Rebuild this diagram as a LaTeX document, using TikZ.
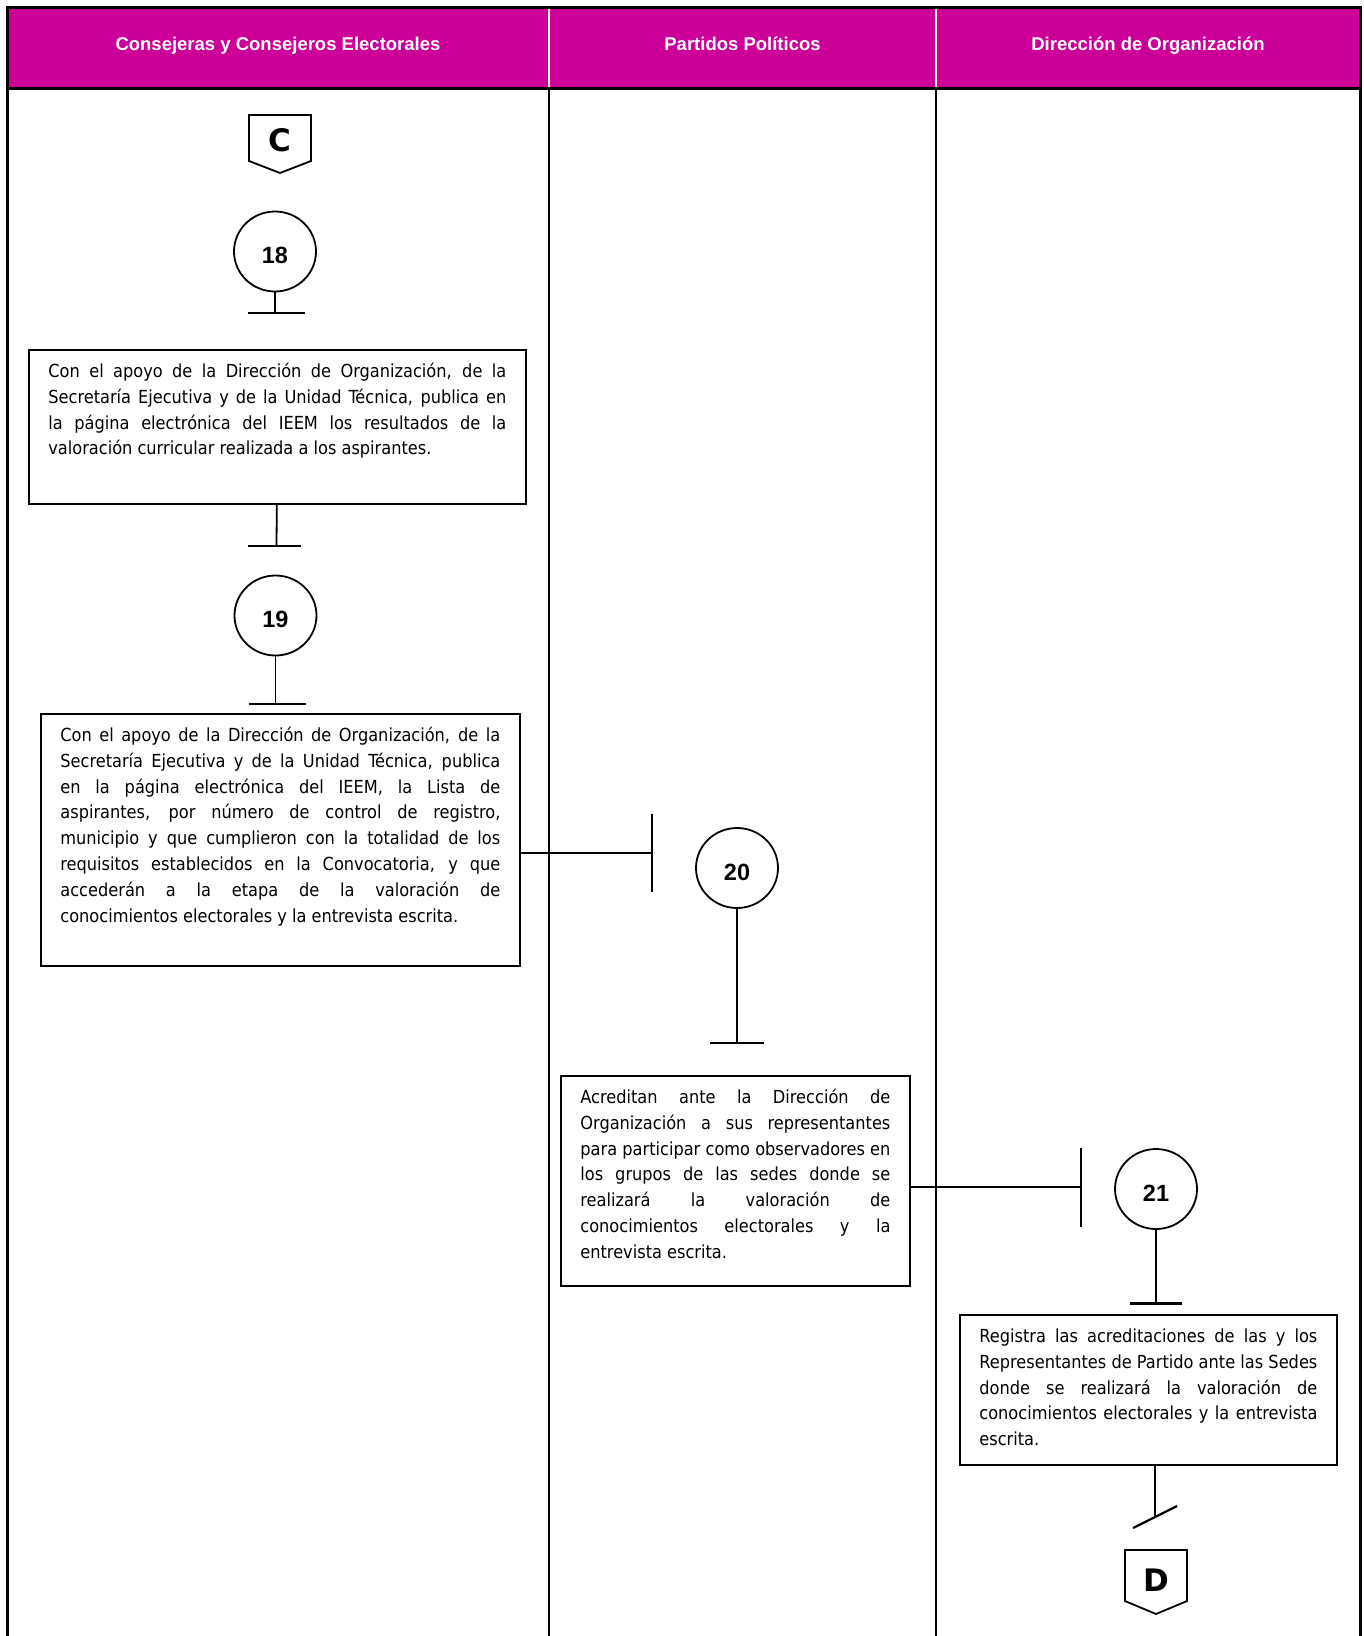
\documentclass[tikz,border=0pt]{standalone}
\usepackage{fontspec}
\setmainfont{DejaVu Sans Condensed}
\newfontfamily\headfont{Liberation Sans}
\newfontfamily\markfont{DejaVu Sans}
\usepackage{tikz}
\usetikzlibrary{shapes.geometric}
\definecolor{ieem}{RGB}{204,0,153}
\newcommand{\acttext}[3]{\parbox[t][#1pt][t]{#2pt}{\strut #3}}

\begin{document}
\begin{tikzpicture}[x=1pt,y=-1pt]

\tikzset{lane/.style = {line width=2pt}}
\tikzset{laneframe/.style = {line width=3pt}}
\tikzset{head/.style = {anchor=base, text=white, font=\headfont\bfseries\fontsize{18.5}{22}\selectfont}}
\tikzset{act/.style = {draw, line width=1.8pt, anchor=north west, inner xsep=19.5pt, inner ysep=9.5pt, font=\fontsize{18}{25.8}\selectfont}}
\tikzset{actnum/.style = {shape=ellipse, draw, line width=1.8pt, minimum width=82pt, minimum height=80pt, inner sep=0pt, text height=24pt, text depth=0pt, font=\headfont\bfseries\fontsize{23.5}{28}\selectfont}}
\tikzset{pageletter/.style = {inner sep=0pt, font=\markfont\bfseries\fontsize{31}{36}\selectfont}}
\tikzset{flow/.style = {line width=1.8pt}}
\tikzset{endbar/.style = {line width=2.2pt}}

\useasboundingbox (0,0) rectangle (1364,1636);

% lanes
\fill[ieem] (7,7) rectangle (1360,88);
\draw[white, line width=1.5pt] (549,7) -- (549,88) (936,7) -- (936,88);
\draw[lane] (549,88) -- (549,1636) (936,88) -- (936,1636);
\draw[laneframe] (7,1636) -- (7,7) -- (1360,7) -- (1360,1636);
\draw[laneframe] (7,88) -- (1360,88);
\node[head] (h1) at (278,50.5) {Consejeras y Consejeros Electorales};
\node[head] (h2) at (742.5,50.5) {Partidos Políticos};
\node[head] (h3) at (1148,50.5) {Dirección de Organización};

% connectors
\node[pageletter] (C) at (280,140) {C};
\draw[flow] (C.center) ++(-31,-25) -- ++(62,0) -- ++(0,46) -- ++(-31,12) -- ++(-31,-12) -- cycle;
\node[pageletter] (D) at (1156,1580) {D};
\draw[flow] (D.center) ++(-31,-30) -- ++(62,0) -- ++(0,51) -- ++(-31,13) -- ++(-31,-13) -- cycle;

% vertices
\node[actnum] (s18) at (275,251.5) {18};
\node[actnum] (s19) at (275.5,615.5) {19};
\node[actnum] (s20) at (737,868) {20};
\node[actnum] (s21) at (1156,1189) {21};

\node[act] (a18) at (28,349) {\acttext{135}{458}{Con el apoyo de la Dirección de Organización, de la\linebreak
Secretaría Ejecutiva y de la Unidad Técnica, publica en\linebreak
la página electrónica del IEEM los resultados de la\linebreak
valoración curricular realizada a los aspirantes.}};
\node[act] (a19) at (40,713) {\acttext{233}{440}{Con el apoyo de la Dirección de Organización, de la\linebreak
Secretaría Ejecutiva y de la Unidad Técnica, publica\linebreak
en la página electrónica del IEEM, la Lista de\linebreak
aspirantes, por número de control de registro,\linebreak
municipio y que cumplieron con la totalidad de los\linebreak
requisitos establecidos en la Convocatoria, y que\linebreak
accederán a la etapa de la valoración de\linebreak
conocimientos electorales y la entrevista escrita.}};
\node[act] (a20) at (560,1075) {\acttext{191}{310}{Acreditan ante la Dirección de\linebreak
Organización a sus representantes\linebreak
para participar como observadores en\linebreak
los grupos de las sedes donde se\linebreak
realizará la valoración de\linebreak
conocimientos electorales y la\linebreak
entrevista escrita.}};
\node[act] (a21) at (959,1314) {\acttext{131}{338}{Registra las acreditaciones de las y los\linebreak
Representantes de Partido ante las Sedes\linebreak
donde se realizará la valoración de\linebreak
conocimientos electorales y la entrevista\linebreak
escrita.}};

\coordinate (b1) at (275,313);
\coordinate (b2) at (276.5,546);
\coordinate (b3) at (275.5,704);
\coordinate (b4) at (652,853);
\coordinate (b5) at (737,1043);
\coordinate (b6) at (1081,1187);
\coordinate (b7) at (1156,1303.5);
\coordinate (b8) at (1155,1517);

%edges
\draw[flow] (s18) -- (b1);
\draw[flow] (a18) -- (b2);
\draw[flow] (s19) -- (b3);
\draw[flow] (a19.east |- b4) -- (b4);
\draw[flow] (s20) -- (b5);
\draw[flow] (a20.east |- b6) -- (b6);
\draw[flow] (s21) -- (b7);
\draw[flow] (b8 |- a21.south) -- (b8);

\draw[endbar] (b1) ++(-27,0) -- ++(57,0);
\draw[endbar] (b2) ++(-29,0) -- ++(53,0);
\draw[endbar] (b3) ++(-27,0) -- ++(57,0);
\draw[endbar] (b4) ++(0,-39) -- ++(0,78);
\draw[endbar] (b5) ++(-27,0) -- ++(54,0);
\draw[endbar] (b6) ++(0,-39) -- ++(0,79);
\draw[endbar] (b7) ++(-26,0) -- ++(52,0);
\draw[endbar] (b8) ++(-22,11) -- ++(44,-22);
\end{tikzpicture}
\end{document}
